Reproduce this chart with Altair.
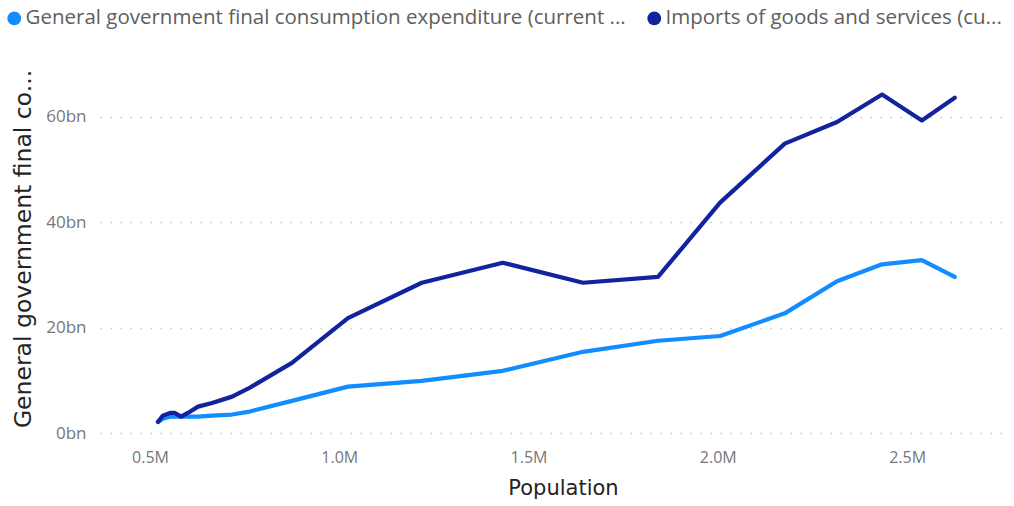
import altair as alt
import pandas as pd

# Population (millions)
population = [0.521, 0.534, 0.553, 0.566, 0.582, 0.600, 0.627, 0.664, 0.717, 0.759,
              0.875, 1.023, 1.218, 1.432, 1.644, 1.842, 2.006, 2.177, 2.315, 2.434,
              2.539, 2.626]
# General government final consumption expenditure (bn)
gov_consumption = [2.1, 2.7, 3.1, 3.1, 3.1, 3.1, 3.1, 3.3, 3.5, 4.0,
                   6.1, 8.8, 9.9, 11.8, 15.4, 17.5, 18.4, 22.7, 28.8, 32.0,
                   32.8, 29.6]
# Imports of goods and services (bn)
imports = [2.1, 3.3, 3.8, 3.8, 3.1, 3.8, 5.0, 5.7, 6.9, 8.4,
           13.3, 21.8, 28.5, 32.3, 28.5, 29.6, 43.7, 54.9, 59.0, 64.2,
           59.3, 63.6]

series_names = ["General government final consumption expenditure (current ...",
                "Imports of goods and services (cu..."]
series_colors = ["#118DFF", "#12239E"]
y_ticks = [0, 20, 40, 60]
x_ticks = [0.5, 1.0, 1.5, 2.0, 2.5]

rows = []
for p, g, i in zip(population, gov_consumption, imports):
    rows.append({"pop": p, "value": g, "series": series_names[0]})
    rows.append({"pop": p, "value": i, "series": series_names[1]})
df = pd.DataFrame(rows)

font = "Open Sans"
title_font = "DejaVu Sans"

chart = alt.Chart(df).mark_line(
    strokeWidth=4.2, strokeCap="round", strokeJoin="round",
    point=alt.OverlayMarkDef(filled=True, size=0),
).encode(
    x=alt.X("pop:Q",
            scale=alt.Scale(domain=[0.368, 2.764], nice=False, zero=False),
            axis=alt.Axis(title="Population", values=x_ticks,
                          labelExpr="format(datum.value, '.1f') + 'M'",
                          grid=False, domain=False, ticks=False,
                          labelPadding=16, titlePadding=12, titleX=463,
                          labelFontSize=16, labelColor="#777777",
                          titleFontSize=21, titleColor="#252423",
                          titleFontWeight="normal", labelFont=font, titleFont=title_font)),
    y=alt.Y("value:Q",
            scale=alt.Scale(domain=[0, 70], nice=False),
            axis=alt.Axis(title="General government final co...", values=y_ticks,
                          labelExpr="datum.value + 'bn'",
                          grid=True, gridDash=[1.5, 8.5], gridColor="#C8C6C4", gridWidth=1.5,
                          domain=False, ticks=False, labelPadding=14, titlePadding=10,
                          labelFontSize=17, labelColor="#777777",
                          titleFontSize=23.5, titleColor="#252423",
                          titleFontWeight="normal", labelFont=font, titleFont=title_font)),
    color=alt.Color("series:N",
                    scale=alt.Scale(domain=series_names, range=series_colors),
                    legend=alt.Legend(title=None, orient="none", direction="horizontal",
                                      legendX=-96, legendY=-56,
                                      symbolType="circle", symbolSize=190,
                                      symbolStrokeWidth=0, symbolOpacity=1,
                                      labelFontSize=20.5, labelColor="#605E5C",
                                      labelFont=font, labelLimit=1000,
                                      labelOffset=1, columnPadding=18)),
    order="pop:Q",
).properties(
    width=907, height=369,
    autosize=alt.AutoSizeParams(type="none"),
    padding={"left": 100, "top": 64, "right": 7, "bottom": 73},
).configure_view(stroke=None)

chart.save("out.html", embed_options={"renderer": "svg", "actions": False})
